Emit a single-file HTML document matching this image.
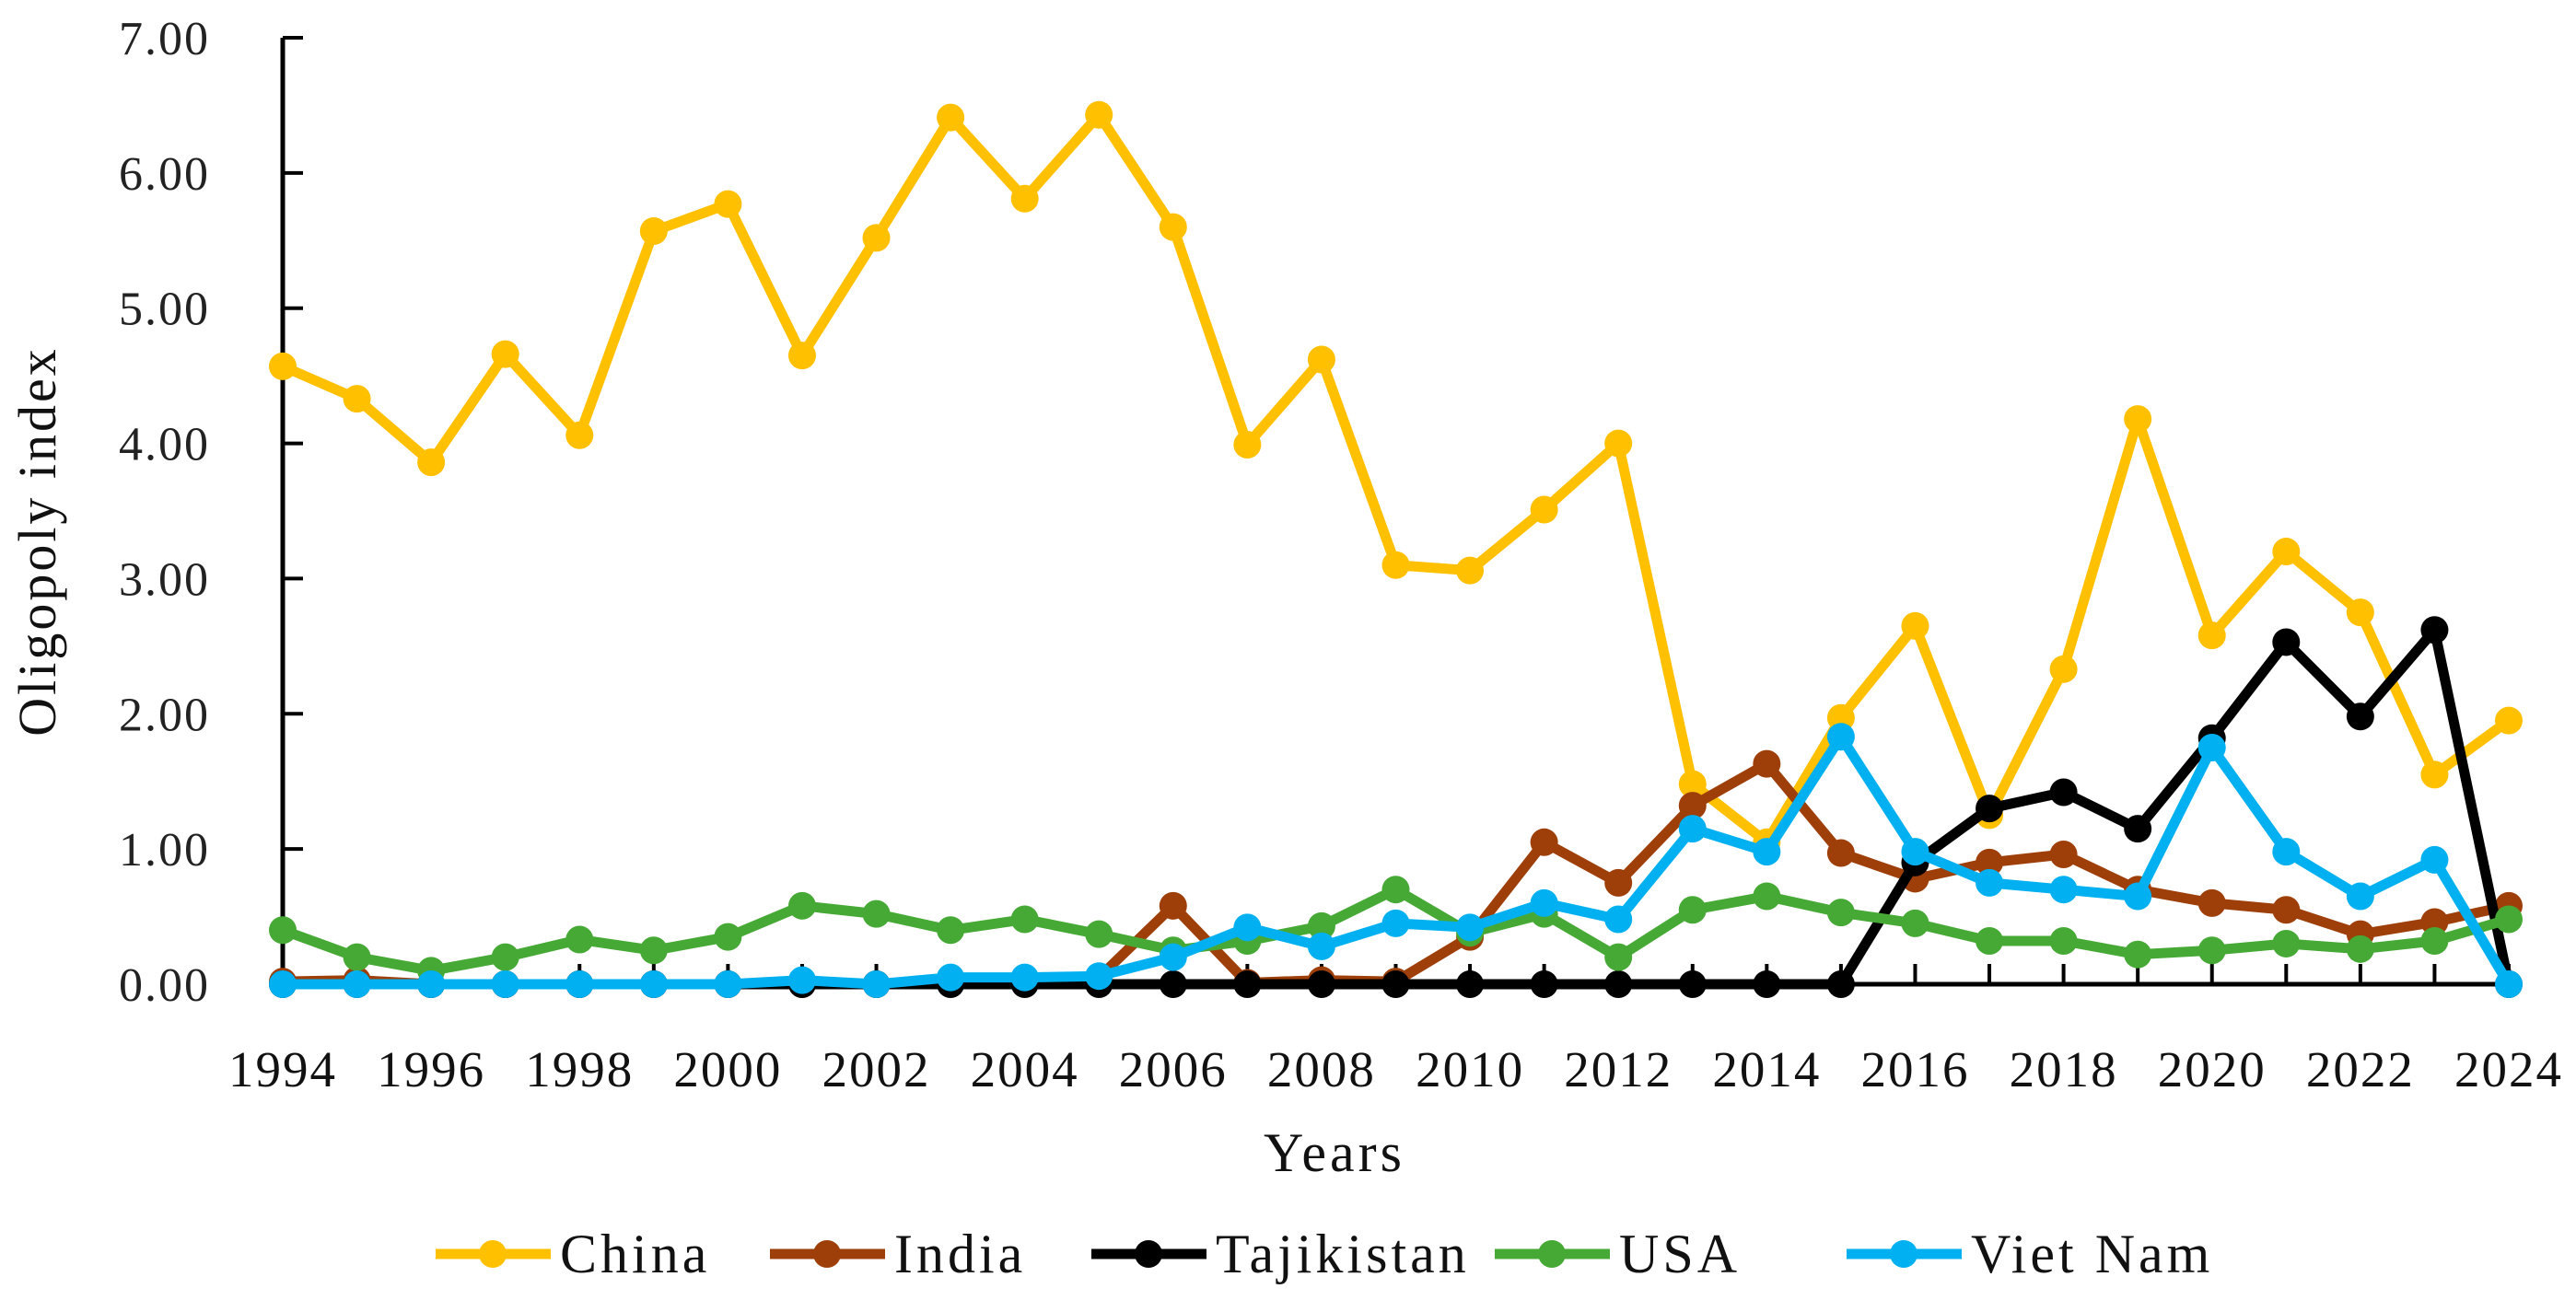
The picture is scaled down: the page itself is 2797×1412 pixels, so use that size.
<!DOCTYPE html>
<html><head><meta charset="utf-8"><style>
html,body{margin:0;padding:0;background:#fff;}
svg{display:block;font-family:"Liberation Serif",serif;}
</style></head><body>
<svg id="chart" width="2797" height="1412" viewBox="0 0 2797 1412" xmlns="http://www.w3.org/2000/svg">
<g id="axes"></g>
<g id="series"></g>
<text transform="translate(60,588) rotate(-90)" text-anchor="middle" font-size="58" letter-spacing="3" fill="#111">Oligopoly index</text>
<text x="1449" y="1272" text-anchor="middle" font-size="60" letter-spacing="4" fill="#111">Years</text>
<g id="legend"></g>
</svg>
<script>
const years = [1994,1995,1996,1997,1998,1999,2000,2001,2002,2003,2004,2005,2006,2007,2008,2009,2010,2011,2012,2013,2014,2015,2016,2017,2018,2019,2020,2021,2022,2023,2024];
const yTicks = [0,1,2,3,4,5,6,7];
const seriesNames = ["China","India","Tajikistan","USA","Viet Nam"];
const chinaValues = [4.57,4.33,3.86,4.66,4.06,5.57,5.77,4.65,5.52,6.41,5.81,6.43,5.60,3.99,4.62,3.10,3.06,3.51,4.00,1.48,1.05,1.97,2.65,1.25,2.33,4.18,2.58,3.20,2.75,1.55,1.95];
const indiaValues = [0.02,0.03,0.00,0.00,0.00,0.00,0.00,0.00,0.00,0.04,0.03,0.05,0.58,0.01,0.03,0.02,0.35,1.05,0.75,1.32,1.63,0.97,0.78,0.90,0.96,0.70,0.60,0.55,0.37,0.46,0.58];
const tajikValues = [0,0,0,0,0,0,0,0,0,0,0,0,0,0,0,0,0,0,0,0,0,0,0.90,1.30,1.42,1.15,1.82,2.53,1.98,2.62,0.00];
const usaValues = [0.40,0.20,0.10,0.20,0.33,0.25,0.35,0.58,0.52,0.40,0.48,0.37,0.25,0.32,0.43,0.70,0.38,0.52,0.20,0.55,0.65,0.53,0.45,0.32,0.32,0.22,0.25,0.30,0.26,0.32,0.48];
const vietValues = [0,0,0,0,0,0,0,0.03,0,0.05,0.05,0.06,0.20,0.42,0.28,0.45,0.42,0.60,0.48,1.15,0.98,1.83,0.98,0.75,0.70,0.65,1.75,0.98,0.65,0.92,0.00];

const NS="http://www.w3.org/2000/svg";
const X0=307, X1=2724, Y0=1069, Y7=41;
const xScale = i => X0 + (X1-X0)*i/(years.length-1);
const yScale = v => Y0 - (Y0-Y7)*v/7;
function mk(tag, attrs, parent){const e=document.createElementNS(NS,tag);for(const k in attrs)e.setAttribute(k,attrs[k]);parent.appendChild(e);return e;}

const axes=document.getElementById('axes');
let yl=mk('line',{x1:X0,y1:yScale(7),x2:X0,y2:Y0,stroke:'#000','stroke-width':5},axes);


let xl=mk('line',{x1:X0,y1:Y0,x2:X1,y2:Y0,stroke:'#000','stroke-width':5},axes);


yTicks.forEach(t=>{
  const y=yScale(t);
  const tk=mk('line',{x1:X0,y1:y,x2:X0+22,y2:y,stroke:'#000','stroke-width':4},axes);
  
  
  const tx=mk('text',{x:228,y:y+18,'text-anchor':'end','font-size':52,'letter-spacing':2,fill:'#222'},axes);
  
  
  tx.textContent=t.toFixed(2);
});
years.forEach((yr,i)=>{
  const x=xScale(i);
  const tk=mk('line',{x1:x,y1:Y0,x2:x,y2:Y0-22,stroke:'#000','stroke-width':4},axes);
  
  
  if(i%2===0){
    const tx=mk('text',{x:x,y:1180,'text-anchor':'middle','font-size':55,'letter-spacing':2,fill:'#111'},axes);
    
    
    tx.textContent=yr;
  }
});

const colors=["#FFC000","#9E3F0A","#000000","#46A935","#00B0F0"];
const allValues=[chinaValues,indiaValues,tajikValues,usaValues,vietValues];
const sg=document.getElementById('series');
allValues.forEach((vals,s)=>{
  const g=mk('g',{},sg);
  
  
  const pts=vals.map((v,i)=>xScale(i)+','+yScale(v)).join(' ');
  const pl=mk('polyline',{points:pts,fill:'none',stroke:colors[s],'stroke-width':11,'stroke-linejoin':'round'},g);
  
  
  vals.forEach((v,i)=>{
    const c=mk('circle',{cx:xScale(i),cy:yScale(v),r:15,fill:colors[s]},g);
    
    
  });
});

const lg=document.getElementById('legend');
const legX=[473,836,1185,1623,2005];
seriesNames.forEach((n,s)=>{
  const g=mk('g',{},lg);
  
  
  const x=legX[s], y=1362;
  mk('line',{x1:x,y1:y,x2:x+125,y2:y,stroke:colors[s],'stroke-width':11},g);
  mk('circle',{cx:x+62,cy:y,r:15,fill:colors[s]},g);
  const t=mk('text',{x:x+135,y:y+20,'font-size':60,'letter-spacing':4,fill:'#111'},g);
  
  
  t.textContent=n;
});
</script>
</body></html>
